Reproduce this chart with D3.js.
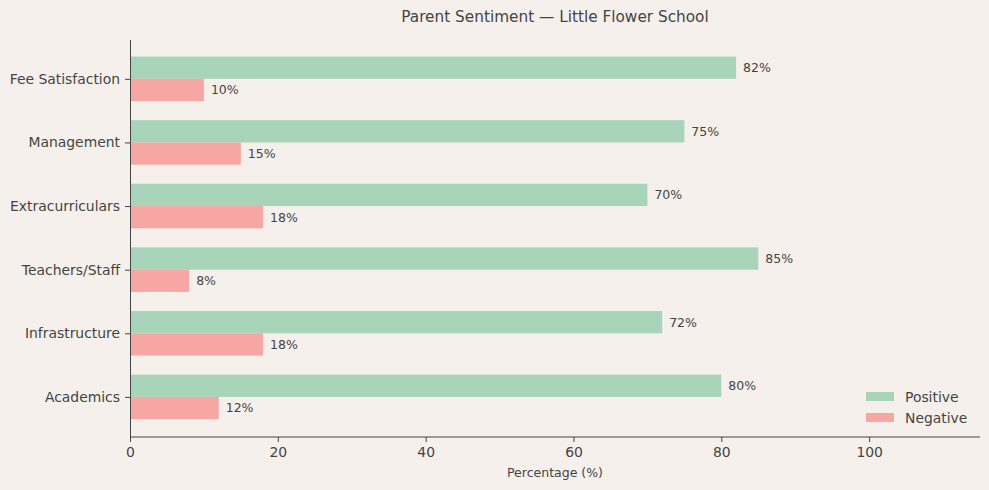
<!DOCTYPE html>
<html>
<head>
<meta charset="utf-8">
<script src="https://cdn.jsdelivr.net/npm/d3@7"></script>
<style>
  body { margin: 0; background: #f5f0ec; }
  svg { display: block; font-family: "DejaVu Sans", sans-serif; }
</style>
</head>
<body>
<svg id="chart"></svg>
<script>
// data, listed top to bottom
var categories = ["Fee Satisfaction", "Management", "Extracurriculars", "Teachers/Staff", "Infrastructure", "Academics"];
var positive = [82, 75, 70, 85, 72, 80];
var negative = [10, 15, 18, 8, 18, 12];
var xTicks = [0, 20, 40, 60, 80, 100];
var seriesNames = ["Positive", "Negative"];
var colors = ["#a8d5ba", "#f6a7a3"];

const W = 989, H = 490;
const margin = {top: 40, right: 9, bottom: 53, left: 130},
      w = W - margin.left - margin.right,
      h = H - margin.top - margin.bottom;

var svg = d3.select("#chart").attr("width", W).attr("height", H);
svg.append("rect").attr("width", W).attr("height", H).attr("fill", "#f5f0ec");

var g = svg.append("g").attr("transform", "translate(" + margin.left + "," + margin.top + ")");

var x = d3.scaleLinear().domain([0, 115]).range([0, w]);
// index scale, 0 at top, with margins like matplotlib
var y = d3.scaleLinear().domain([-0.61, categories.length - 1 + 0.63]).range([0, h]);
var barH = y(0.35) - y(0);

var rows = categories.map((c, i) => ({cat: c, i: i, pos: positive[i], neg: negative[i]}));

// positive bars
g.selectAll(".pos").data(rows).enter().append("rect")
  .attr("class", "pos")
  .attr("x", x(0))
  .attr("y", d => y(d.i) - barH)
  .attr("width", d => x(d.pos) - x(0))
  .attr("height", barH)
  .attr("fill", colors[0]);

g.selectAll(".neg").data(rows).enter().append("rect")
  .attr("class", "neg")
  .attr("x", x(0))
  .attr("y", d => y(d.i))
  .attr("width", d => x(d.neg) - x(0))
  .attr("height", barH)
  .attr("fill", colors[1]);

// value labels
g.selectAll(".posLbl").data(rows).enter().append("text")
  .attr("x", d => x(d.pos) + 7)
  .attr("y", d => y(d.i) - barH / 2)
  .attr("dy", "0.35em")
  .attr("font-size", 12.5)
  .attr("fill", "#444")
  .text(d => d.pos + "%");

g.selectAll(".negLbl").data(rows).enter().append("text")
  .attr("x", d => x(d.neg) + 7)
  .attr("y", d => y(d.i) + barH / 2)
  .attr("dy", "0.35em")
  .attr("font-size", 12.5)
  .attr("fill", "#444")
  .text(d => d.neg + "%");

// axes
var xAxis = g.append("g")
  .attr("transform", "translate(0," + h + ")")
  .call(d3.axisBottom(x).tickValues(xTicks).tickSize(5).tickPadding(5));
var yAxis = g.append("g")
  .call(d3.axisLeft(y).tickValues(d3.range(categories.length)).tickFormat(i => categories[i]).tickSize(5).tickPadding(5));

[xAxis, yAxis].forEach(a => {
  a.select(".domain").attr("stroke", "#444").attr("stroke-width", 1);
  a.selectAll(".tick line").attr("stroke", "#444");
  a.selectAll(".tick text").attr("fill", "#444").attr("font-size", 13.9).attr("font-family", "DejaVu Sans, sans-serif");
});
// trim axis domain end caps
xAxis.select(".domain").attr("d", "M0.5,0H" + w);
yAxis.select(".domain").attr("d", "M0.5,0V" + h);

// axis label
g.append("text")
  .attr("x", w / 2)
  .attr("y", h + 40)
  .attr("text-anchor", "middle")
  .attr("font-size", 12.5)
  .attr("fill", "#444")
  .text("Percentage (%)");

// title
svg.append("text")
  .attr("x", margin.left + w / 2)
  .attr("y", 22)
  .attr("text-anchor", "middle")
  .attr("font-size", 15.3)
  .attr("fill", "#444")
  .text("Parent Sentiment — Little Flower School");

// legend
var leg = svg.append("g").attr("transform", "translate(866,390)");
seriesNames.forEach((s, i) => {
  leg.append("rect").attr("x", 0).attr("y", i * 21 + 2).attr("width", 28).attr("height", 9).attr("fill", colors[i]);
  leg.append("text").attr("x", 39).attr("y", i * 21 + 7).attr("dy", "0.35em")
    .attr("font-size", 13.9).attr("fill", "#444").text(s);
});
</script>
</body>
</html>
